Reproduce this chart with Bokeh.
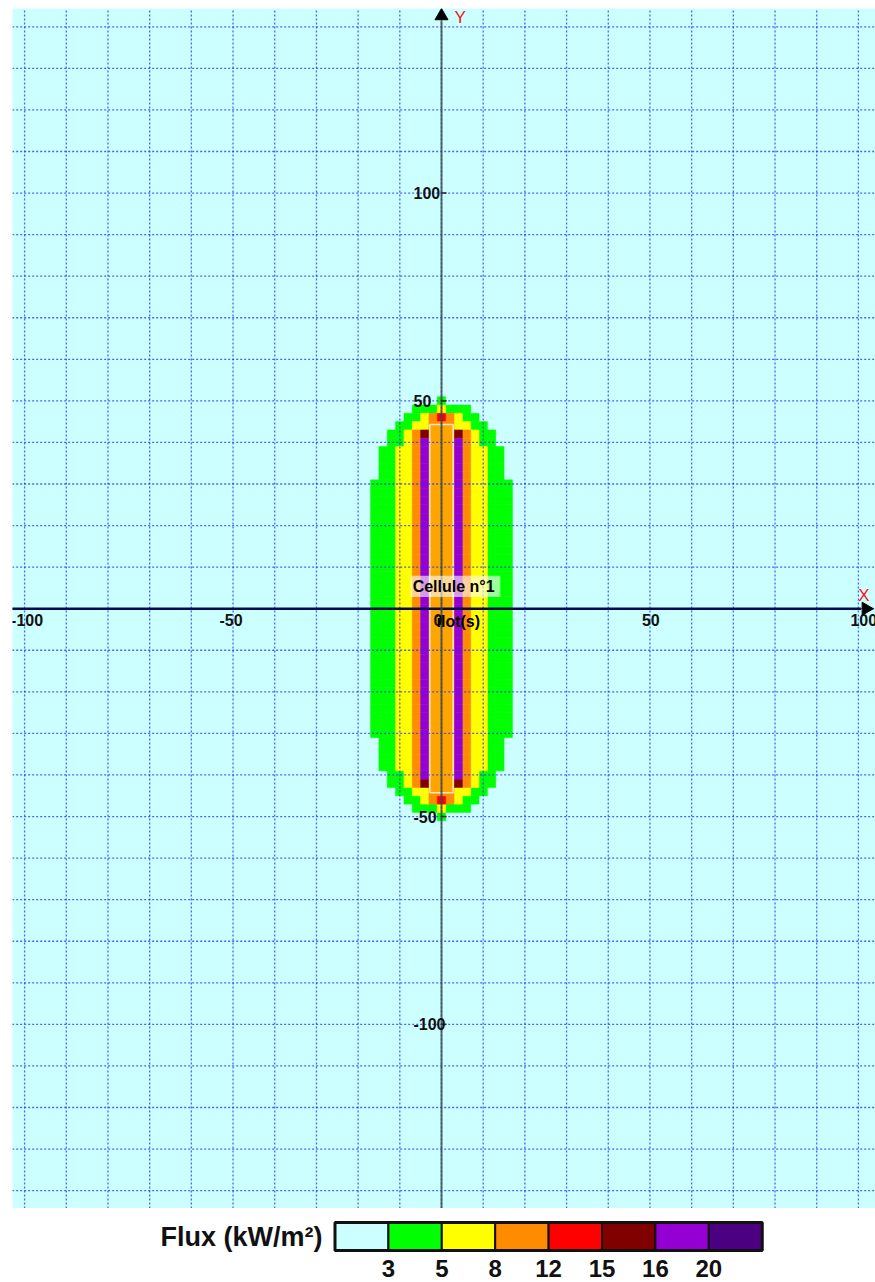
import numpy as np
import pandas as pd
from bokeh.plotting import figure
from bokeh.layouts import column
from bokeh.models import Range1d, ColumnDataSource
from bokeh.core.properties import value
from bokeh.embed import file_html
from bokeh.resources import INLINE

# ---------------- data ----------------
CELL = 2  # metres per heat-map cell
# left-half columns (x centres) and upper-half rows (y centres); the map is symmetric
COLS_LEFT = [-16, -14, -12, -10, -8, -6, -4, -2, 0]
ROWS_TOP = [50, 48, 46, 44, 42, 40, 38, 36, 34, 32, 30, 28, 26, 24, 22, 20,
            18, 16, 14, 12, 10, 8, 6, 4, 2, 0]
# flux class per cell: . <3, g 3-5, y 5-8, o 8-12, r 12-15, d 15-16, p 16-20
ROW_CLASSES = [
    "........g",   # 50
    ".....gggy",   # 48
    "....ggyor",   # 46
    "...ggyyoo",   # 44
    "..ggyodoo",   # 42
    "..ggyopoo",   # 40
    ".ggyyopoo",   # 38
    ".ggyyopoo",   # 36
    ".ggyyopoo",   # 34
    ".ggyyopoo",   # 32
    "gggyyopoo",   # 30
    "gggyyopoo",   # 28
    "gggyyopoo",   # 26
    "gggyyopoo",   # 24
    "gggyyopoo",   # 22
    "gggyyopoo",   # 20
    "gggyyopoo",   # 18
    "gggyyopoo",   # 16
    "gggyyopoo",   # 14
    "gggyyopoo",   # 12
    "gggyyopoo",   # 10
    "gggyyopoo",   # 8
    "gggyyopoo",   # 6
    "gggyyopoo",   # 4
    "gggyyopoo",   # 2
    "gggyyopoo",   # 0
]
CLASS_COLORS = {"g": "#00FF00", "y": "#FFFF00", "o": "#FF8C00", "r": "#FF0000",
                "d": "#800000", "p": "#9400D3"}

# island (îlot) of "Cellule n°1"
ISLAND_X = [-2.8, 2.8]
ISLAND_Y = [-44.3, 44.3]

# axes
X_TICKS = [-100, -50, 0, 50, 100]
X_TICK_LABELS = ["-100", "-50", "0", "50", "100"]
Y_TICKS = [100, 50, -50, -100]
Y_TICK_LABELS = ["100", "50", "-50", "-100"]
GRID_STEP = 10

# legend
FLUX_TITLE = "Flux (kW/m²)"
FLUX_COLORS = ["#CCFFFF", "#00FF00", "#FFFF00", "#FF8C00", "#FF0000",
               "#800000", "#9400D3", "#4B0082"]
FLUX_BOUNDS = ["3", "5", "8", "12", "15", "16", "20"]

FONT = value("Liberation Sans")

# ---------------- build cells ----------------
recs = []
for ry, row in zip(ROWS_TOP, ROW_CLASSES):
    for cx, ch in zip(COLS_LEFT, row):
        if ch == ".":
            continue
        for yy in {ry, -ry}:
            for xx in {cx, -cx}:
                recs.append((xx, yy, CLASS_COLORS[ch]))
cells = pd.DataFrame(recs, columns=["x", "y", "color"])

X0, X1 = -102.9, 104.1
Y0, Y1 = -144.3, 144.4

p = figure(width=875, height=1208, x_range=Range1d(X0, X1), y_range=Range1d(Y0, Y1),
           output_backend="svg", toolbar_location=None, min_border=0,
           min_border_left=12, min_border_top=8,
           x_axis_location=None, y_axis_location=None,
           background_fill_color="#CCFFFF", border_fill_color="white",
           outline_line_color=None)
p.grid.visible = False

p.rect(x="x", y="y", width=CELL, height=CELL, source=ColumnDataSource(cells),
       fill_color="color", line_color="color", line_width=0.6)

# island
p.quad(left=[ISLAND_X[0]], right=[ISLAND_X[1]], bottom=[ISLAND_Y[0]], top=[ISLAND_Y[1]],
       fill_color="#FFA500", line_color="#FFF0E0", line_alpha=0.9, line_width=1.5)

# grid (dotted blue, drawn over the map)
gx = np.arange(-100, X1, GRID_STEP)
gy = np.arange(-140, Y1, GRID_STEP)
p.segment(x0=gx, y0=[Y0] * len(gx), x1=gx, y1=[Y1] * len(gx),
          line_color="#2030FF", line_alpha=0.75, line_width=1.3, line_dash="2 2")
p.segment(x0=[X0 - 2] * len(gy), y0=gy, x1=[X1] * len(gy), y1=gy,
          line_color="#2030FF", line_alpha=0.75, line_width=1.3, line_dash="2 2")

# axes through the origin
p.segment(x0=[X0 - 2], y0=[0], x1=[100.6], y1=[0], line_color="#0A0A50", line_width=2.5)
p.segment(x0=[0], y0=[Y0], x1=[0], y1=[141.5], line_color="#3A4848", line_alpha=0.8,
          line_width=2)
# small tick marks on the Y axis
p.segment(x0=[0] * len(Y_TICKS), y0=Y_TICKS, x1=[1.2] * len(Y_TICKS), y1=Y_TICKS,
          line_color="#222222", line_width=1.5)
p.scatter(x=[101.8], y=[0], marker="triangle", angle=-np.pi / 2, size=13,
          fill_color="black", line_color="black")
p.scatter(x=[0], y=[142.6], marker="triangle", size=13, fill_color="black",
          line_color="black")
p.text(x=[101.3], y=[0], text=["X"], text_font=FONT, text_font_size="17px",
       text_color="#FF1010", text_align="center", text_baseline="bottom", y_offset=-4)
p.text(x=[0], y=[142.6], text=["Y"], text_font=FONT, text_font_size="17px",
       text_color="#FF1010", text_align="left", text_baseline="middle", x_offset=13,
       y_offset=2)

# tick labels
xt_off = [-8 - (5.5 if s.startswith("-") else 0) for s in X_TICK_LABELS]
p.text(x=X_TICKS, y=[0] * len(X_TICKS), text=X_TICK_LABELS, text_font=FONT,
       text_font_size="16px", text_font_style="bold", text_color="#111111",
       text_align="left", text_baseline="top", x_offset=xt_off, y_offset=5)
p.text(x=[0] * len(Y_TICKS), y=Y_TICKS, text=Y_TICK_LABELS, text_font=FONT,
       text_font_size="16px", text_font_style="bold", text_color="#111111",
       text_align="left", text_baseline="middle", x_offset=-28)

# cell label
p.quad(left=[-7.4], right=[14.1], bottom=[2.8], top=[7.9], fill_color="white",
       fill_alpha=0.6, line_color=None)
p.text(x=[-7.4], y=[5.35], text=["Cellule n°1"], text_font=FONT, text_font_size="16px",
       text_font_style="bold", text_color="black", text_align="left",
       text_baseline="middle", x_offset=2)
p.text(x=[0], y=[0], text=["îlot(s)"], text_font=FONT, text_font_size="16px",
       text_font_style="bold", text_color="black", text_align="left",
       text_baseline="top", x_offset=-5, y_offset=4)

# ---------------- legend ----------------
BOXW = 53.4
lg = figure(width=875, height=74, x_range=Range1d(-322.5, 540.5), y_range=Range1d(-74, 0),
            output_backend="svg", toolbar_location=None, min_border=0, min_border_left=12,
            x_axis_location=None, y_axis_location=None, outline_line_color=None,
            background_fill_color="white", border_fill_color="white")
lg.grid.visible = False
idx = np.arange(len(FLUX_COLORS))
lg.quad(left=idx * BOXW, right=(idx + 1) * BOXW, bottom=[-42] * len(idx),
        top=[-14] * len(idx), fill_color=FLUX_COLORS, line_color="#111111", line_width=2)
lg.quad(left=[0], right=[len(FLUX_COLORS) * BOXW], bottom=[-42], top=[-14],
        fill_color=None, line_color="#111111", line_width=3)
bidx = np.arange(1, len(FLUX_COLORS))
lg.text(x=bidx * BOXW, y=[-60] * len(bidx), text=FLUX_BOUNDS, text_font=FONT,
        text_font_size="24px", text_font_style="bold", text_color="#111111",
        text_align="center", text_baseline="middle")
lg.text(x=[-12.5], y=[-28], text=[FLUX_TITLE], text_font=FONT, text_font_size="27px",
        text_font_style="bold", text_color="#111111", text_align="right",
        text_baseline="middle")

layout = column(p, lg, spacing=0)
open("out.html", "w").write(file_html(layout, INLINE))
